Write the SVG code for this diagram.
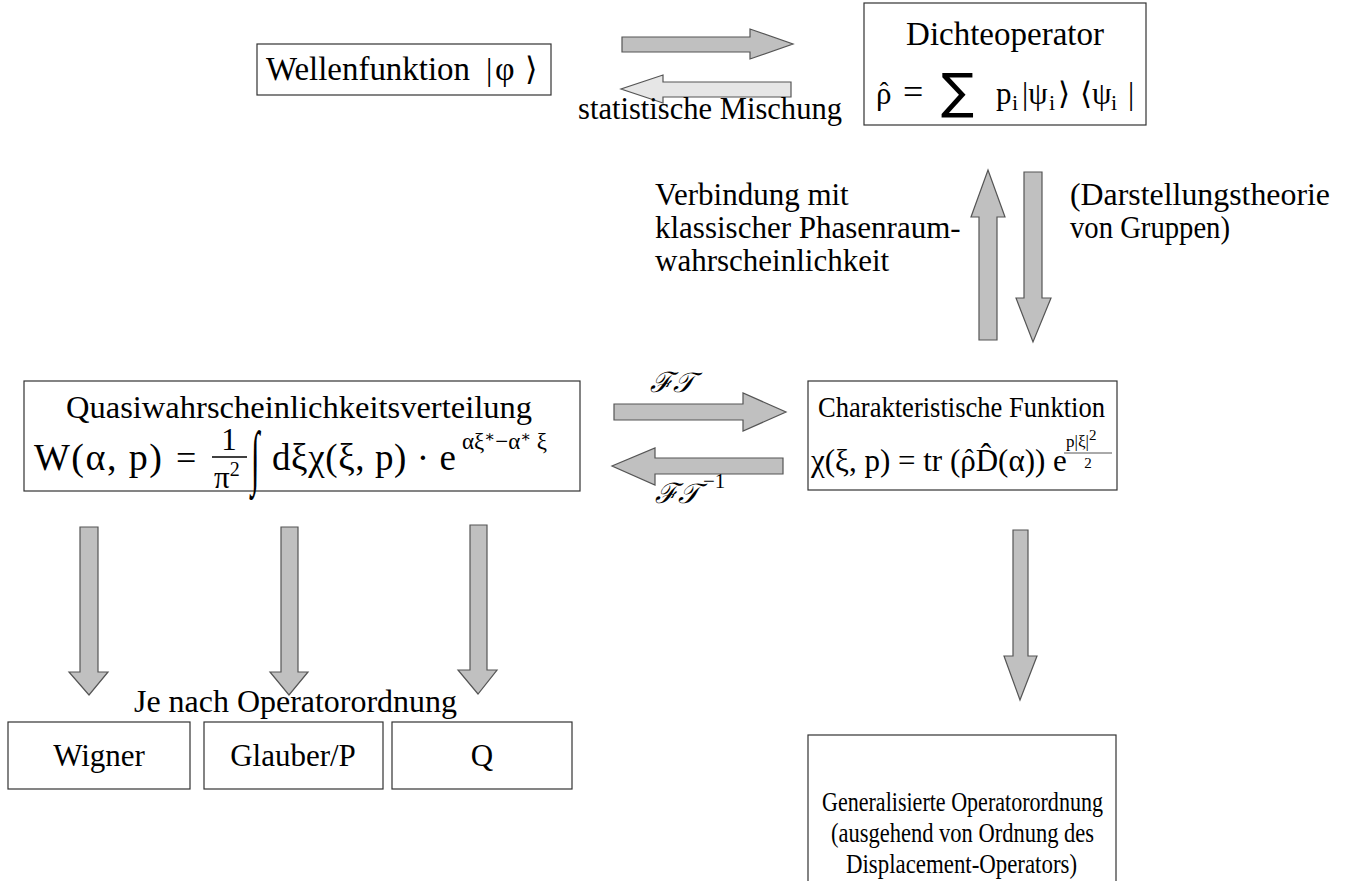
<svg xmlns="http://www.w3.org/2000/svg" width="1345" height="881" viewBox="0 0 1345 881">
  <style>
    .box { fill: #ffffff; stroke: #333333; stroke-width: 1.2; }
    .arr { fill: #c0c0c0; stroke: #555555; stroke-width: 1.2; }
    .arr-light { fill: #e6e6e6; stroke: #555555; stroke-width: 1.2; }
    .t { font-family: "Liberation Serif", "DejaVu Serif", serif; font-size: 31px; fill: #000000; }
    .c { text-anchor: middle; }
    .m { font-family: "Liberation Serif", "DejaVu Serif", serif; font-size: 31px; fill: #000000; }
    .op { font-family: "DejaVu Sans", sans-serif; fill: #000000; }
    .scr { font-family: "Liberation Serif", serif; font-style: italic; font-size: 28px; }
  </style>
  <rect width="1345" height="881" fill="#ffffff"/>

  <!-- connectors -->
  <g id="connectors">
    <!-- Wellenfunktion <-> Dichteoperator -->
    <polygon class="arr" points="622,37 750,37 750,29 793,44 750,59 750,52 622,52"/>
    <polygon class="arr-light" points="791,82 663,82 663,75 621,89 663,103 663,97 791,97"/>
    <!-- Dichteoperator <-> Charakteristische Funktion -->
    <polygon class="arr" points="979,340 979,217 971,217 988,170 1005,217 997,217 997,340"/>
    <polygon class="arr" points="1024,172 1042,172 1042,298 1051,298 1033,342 1016,298 1024,298"/>
    <!-- Fourier transform pair -->
    <polygon class="arr" points="614,404 743,404 743,393 786,412 743,431 743,420 614,420"/>
    <polygon class="arr" points="783,458 655,458 655,448 612,466 655,485 655,474 783,474"/>
    <!-- Quasiwahrscheinlichkeit -> orderings -->
    <polygon class="arr" points="80,527 98,527 98,672 108,672 89,695 69,672 80,672"/>
    <polygon class="arr" points="281,527 298,527 298,672 308,672 289,695 270,672 281,672"/>
    <polygon class="arr" points="470,525 487,525 487,670 497,670 478,694 458,670 470,670"/>
    <!-- Charakteristische Funktion -> Generalisierte Operatorordnung -->
    <polygon class="arr" points="1013,530 1028,530 1028,656 1037,656 1020,700 1004,656 1013,656"/>

    <!-- connector labels -->
    <text class="t" x="578" y="119" textLength="264" lengthAdjust="spacingAndGlyphs">statistische Mischung</text>
    <text class="t" x="655" y="205">Verbindung mit</text>
    <text class="t" x="655" y="238">klassischer Phasenraum-</text>
    <text class="t" x="655" y="271">wahrscheinlichkeit</text>
    <text class="t" x="1070" y="205" textLength="260" lengthAdjust="spacingAndGlyphs">(Darstellungstheorie</text>
    <text class="t" x="1070" y="238" textLength="160" lengthAdjust="spacingAndGlyphs">von Gruppen)</text>
    <text class="scr" x="650" y="392">ℱ𝒯</text>
    <text class="scr" x="655" y="503">ℱ𝒯</text>
    <text class="t" x="703" y="488" style="font-size:21px">−1</text>
    <text class="t" x="134" y="712" textLength="323" lengthAdjust="spacingAndGlyphs">Je nach Operatorordnung</text>
  </g>

  <!-- Wellenfunktion -->
  <g id="wellenfunktion">
    <rect class="box" x="257" y="44" width="294" height="51"/>
    <text class="t" x="266" y="80" style="font-size:33px" textLength="204" lengthAdjust="spacingAndGlyphs">Wellenfunktion</text>
    <text class="m" x="486" y="80" style="font-size:32px">|</text>
    <text class="m" x="495" y="80" style="font-size:34px">φ</text>
    <text class="m" x="525" y="80" style="font-size:32px">⟩</text>
  </g>

  <!-- Dichteoperator -->
  <g id="dichteoperator">
    <rect class="box" x="864" y="3" width="282" height="122"/>
    <text class="t c" x="1005" y="45" style="font-size:33px">Dichteoperator</text>
    <text class="m" x="876" y="104">ρ</text>
    <text class="m c" x="884" y="100" style="font-size:26px">ˆ</text>
    <text class="m" x="903" y="104" style="font-size:36px">=</text>
    <text class="op" x="941" y="108" style="font-size:49px">∑</text>
    <text class="m" x="996" y="104">p</text>
    <text class="m" x="1012" y="110" style="font-size:22px">i</text>
    <text class="m" x="1022" y="104">|ψ</text>
    <text class="m" x="1049" y="110" style="font-size:22px">i</text>
    <text class="m" x="1058" y="104">⟩</text>
    <text class="m" x="1080" y="104">⟨ψ</text>
    <text class="m" x="1111" y="110" style="font-size:22px">i</text>
    <text class="m" x="1128" y="104">|</text>
  </g>

  <!-- Quasiwahrscheinlichkeitsverteilung -->
  <g id="quasiverteilung">
    <rect class="box" x="24" y="381" width="556" height="110"/>
    <text class="t" x="66" y="418" textLength="466" lengthAdjust="spacingAndGlyphs">Quasiwahrscheinlichkeitsverteilung</text>
    <text class="m" x="34" y="470" style="font-size:38px" textLength="128" lengthAdjust="spacing">W(α, p)</text>
    <text class="m" x="176" y="470" style="font-size:36px">=</text>
    <text class="m c" x="229" y="450">1</text>
    <line x1="212" y1="457" x2="247" y2="457" stroke="#000000" stroke-width="1.3"/>
    <text class="m" x="214" y="488">π<tspan style="font-size:20px" dy="-12">2</tspan></text>
    <text class="m" transform="translate(251,481) scale(1,2.3)">∫</text>
    <text class="m" x="272" y="470" style="font-size:37px" textLength="184" lengthAdjust="spacing">dξχ(ξ, p) · e</text>
    <text class="m" x="462" y="449" style="font-size:23px">αξ<tspan style="font-size:16px" dy="-7">∗</tspan><tspan dy="7">−α</tspan><tspan style="font-size:16px" dy="-7">∗</tspan><tspan dy="7"> ξ</tspan></text>
  </g>

  <!-- Charakteristische Funktion -->
  <g id="charakteristische">
    <rect class="box" x="808" y="381" width="309" height="109"/>
    <text class="t" x="818" y="417" style="font-size:29px" textLength="287" lengthAdjust="spacingAndGlyphs">Charakteristische Funktion</text>
    <text class="m" x="811" y="471">χ(ξ, p) = tr (ρD̂(α)) e</text>
    <text class="m c" x="969" y="467" style="font-size:26px">ˆ</text>
    <text class="m" x="1066" y="447" style="font-size:17px">p|ξ|<tspan style="font-size:15px" dy="-7">2</tspan></text>
    <line x1="1064" y1="453" x2="1112" y2="453" stroke="#555555" stroke-width="1"/>
    <text class="m c" x="1088" y="468" style="font-size:15px">2</text>
  </g>

  <!-- Ordering boxes -->
  <g id="wigner">
    <rect class="box" x="8" y="722" width="182" height="67"/>
    <text class="t c" x="99" y="766">Wigner</text>
  </g>
  <g id="glauber">
    <rect class="box" x="204" y="722" width="179" height="67"/>
    <text class="t c" x="293" y="766">Glauber/P</text>
  </g>
  <g id="q">
    <rect class="box" x="392" y="722" width="180" height="67"/>
    <text class="t c" x="482" y="766">Q</text>
  </g>

  <!-- Generalisierte Operatorordnung -->
  <g id="generalisiert">
    <rect class="box" x="808" y="735" width="308" height="150"/>
    <text class="t" x="822" y="811" style="font-size:28px" textLength="281" lengthAdjust="spacingAndGlyphs">Generalisierte Operatorordnung</text>
    <text class="t" x="831" y="842" style="font-size:28px" textLength="263" lengthAdjust="spacingAndGlyphs">(ausgehend von Ordnung des</text>
    <text class="t" x="846" y="873" style="font-size:28px" textLength="231" lengthAdjust="spacingAndGlyphs">Displacement-Operators)</text>
  </g>
</svg>
